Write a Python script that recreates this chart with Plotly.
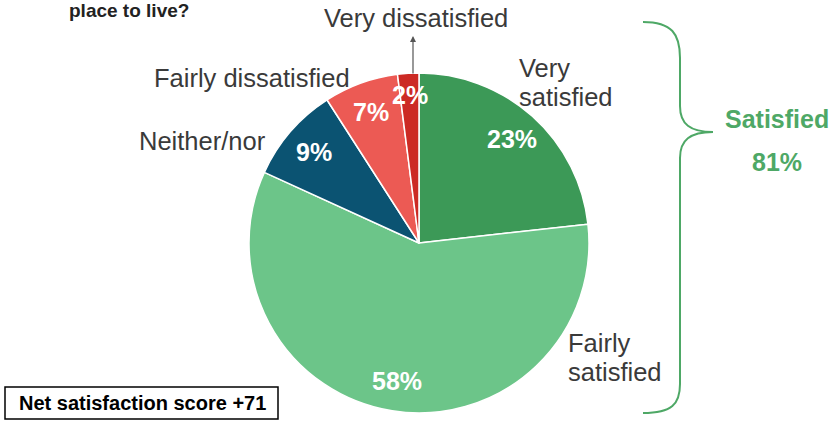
import math
import plotly.graph_objects as go

# ---- data ----
labels = ["Very satisfied", "Fairly satisfied", "Neither/nor", "Fairly dissatisfied", "Very dissatisfied"]
values = [23, 58, 9, 7, 2]
colors = ["#3c9957", "#6cc589", "#0b5372", "#ec5a54", "#cc2a24"]
satisfied_label = "Satisfied"
satisfied_value = 81
net_score_text = "Net satisfaction score +71"
question_tail = "place to live?"

W, H = 834, 421
CX, CY, R = 419, 243, 170


def px(x):
    return x / W


def py(y):
    return 1 - y / H


fig = go.Figure()
fig.add_trace(go.Pie(
    labels=labels,
    values=values,
    sort=False,
    direction="clockwise",
    rotation=0,
    marker=dict(colors=colors, line=dict(color="white", width=1.5)),
    textinfo="none",
    hoverinfo="label+value",
    showlegend=False,
    domain=dict(x=[px(CX - R), px(CX + R)], y=[py(CY + R), py(CY - R)]),
))

annotations = []
FAM = "Liberation Sans, Arial, sans-serif"
font_lbl = dict(family=FAM, size=25.5, color="#3a3a3a")
font_pct = dict(family=FAM, size=25, color="white")

# percentage labels inside slices, placed at slice mid-angles
total = sum(values)
cum = 0
for i, v in enumerate(values):
    mid = (cum + v / 2) / total * 2 * math.pi
    f = 0.87 if v < 5 else 0.82
    x = CX + f * R * math.sin(mid)
    y = CY - f * R * math.cos(mid)
    annotations.append(dict(x=px(x), y=py(y), xref="paper", yref="paper",
                            text=f"<b>{v}%</b>", showarrow=False, font=font_pct,
                            xanchor="center", yanchor="middle"))
    cum += v


# outside category labels
def lbl(text, x, y, xanchor):
    annotations.append(dict(x=px(x), y=py(y), xref="paper", yref="paper", text=text,
                            showarrow=False, font=font_lbl, xanchor=xanchor, yanchor="middle"))


lbl("Very dissatisfied", 416, 18, "center")
lbl("Fairly dissatisfied", 352, 78, "right")
lbl("Neither/nor", 268, 141, "right")
lbl("Very", 517, 68, "left")
lbl("satisfied", 517, 96.5, "left")
lbl("Fairly", 566, 343, "left")
lbl("satisfied", 566, 371.5, "left")

# arrow for the tiny slice
annotations.append(dict(x=px(413), y=py(36), xref="paper", yref="paper", text="",
                        showarrow=True, ax=0, ay=39, axref="pixel", ayref="pixel",
                        arrowhead=2, arrowsize=1, arrowwidth=1.2, arrowcolor="#555555"))

# satisfied group
green = "#4ea866"
font_sat = dict(family=FAM, size=25, color=green)
annotations.append(dict(x=px(777), y=py(119), xref="paper", yref="paper",
                        text=f"<b>{satisfied_label}</b>", showarrow=False, font=font_sat,
                        xanchor="center", yanchor="middle"))
annotations.append(dict(x=px(777), y=py(162), xref="paper", yref="paper",
                        text=f"<b>{satisfied_value}%</b>", showarrow=False, font=font_sat,
                        xanchor="center", yanchor="middle"))

# question tail (top of the chart)
annotations.append(dict(x=px(67), y=py(11), xref="paper", yref="paper",
                        text=f"<b>{question_tail}</b>", showarrow=False,
                        font=dict(family=FAM, size=19, color="#222222"),
                        xanchor="left", yanchor="middle"))

# net score box text
annotations.append(dict(x=px(142), y=py(403), xref="paper", yref="paper",
                        text=f"<b>{net_score_text}</b>", showarrow=False,
                        font=dict(family=FAM, size=20, color="black"),
                        xanchor="center", yanchor="middle"))

# brace path in pixel coords -> paper
brace_pts = [
    ("M", [(643, 22)]),
    ("C", [(672, 22), (680, 34), (680, 58)]),
    ("L", [(680, 106)]),
    ("C", [(680, 124), (690, 132), (713, 132)]),
    ("C", [(690, 132), (680, 140), (680, 158)]),
    ("L", [(680, 384)]),
    ("C", [(680, 404), (672, 413), (643, 413)]),
]
path = ""
for cmd, pts in brace_pts:
    path += cmd + " " + ", ".join(f"{px(a):.5f} {py(b):.5f}" for a, b in pts) + " "

shapes = [
    dict(type="path", path=path.strip(), xref="paper", yref="paper",
         line=dict(color=green, width=2)),
    dict(type="rect", xref="paper", yref="paper", x0=px(5), x1=px(278), y0=py(419), y1=py(387),
         line=dict(color="black", width=1.5), fillcolor="rgba(0,0,0,0)"),
]

fig.update_layout(
    width=W, height=H,
    margin=dict(l=0, r=0, t=0, b=0),
    paper_bgcolor="white",
    plot_bgcolor="white",
    annotations=annotations,
    shapes=shapes,
)

fig.write_html("out.html")
